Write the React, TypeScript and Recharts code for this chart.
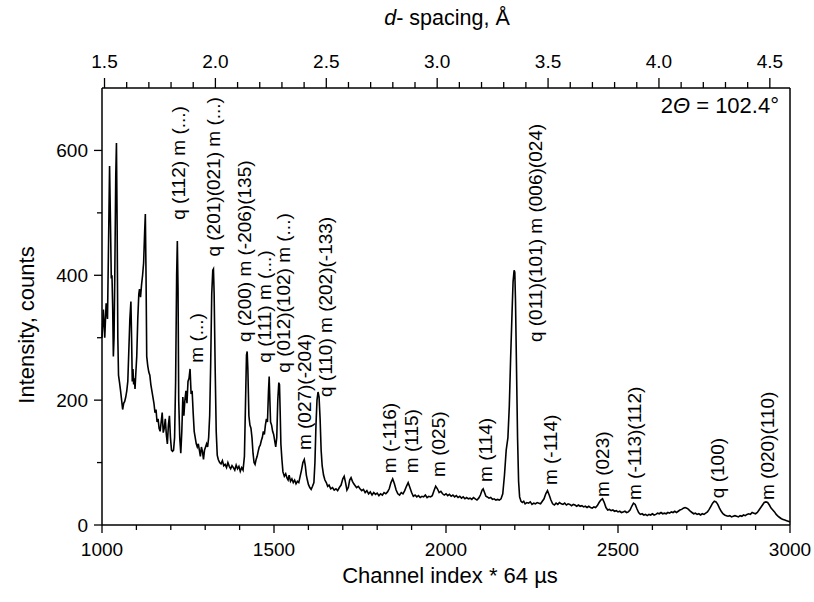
import { Line, LineChart, XAxis, YAxis, ReferenceLine, ReferenceDot } from "recharts";

// neutron diffraction spectrum, channel vs counts
const channel = [
  1000, 1004, 1008, 1012, 1016, 1019, 1022, 1025, 1027, 1029, 1031, 1033, 1035, 1037, 1040, 1042, 1044, 1046, 1048, 1051,
  1054, 1057, 1060, 1063, 1066, 1069, 1072, 1075, 1078, 1081, 1084, 1086, 1088, 1090, 1092, 1094, 1096, 1098, 1101, 1104,
  1107, 1109, 1112, 1115, 1118, 1121, 1124, 1126, 1128, 1130, 1133, 1136, 1139, 1142, 1145, 1148, 1151, 1154, 1157, 1160,
  1163, 1166, 1169, 1172, 1175, 1178, 1181, 1184, 1187, 1190, 1193, 1196, 1199, 1202, 1205, 1208, 1211, 1214, 1217, 1219,
  1221, 1223, 1226, 1229, 1232, 1235, 1238, 1241, 1244, 1247, 1250, 1253, 1256, 1259, 1262, 1265, 1268, 1271, 1274, 1277,
  1280, 1283, 1286, 1289, 1292, 1295, 1298, 1301, 1304, 1307, 1310, 1313, 1316, 1319, 1322, 1324, 1326, 1329, 1332, 1335,
  1338, 1342, 1346, 1350, 1354, 1358, 1362, 1366, 1370, 1374, 1378, 1382, 1386, 1390, 1394, 1398, 1402, 1406, 1410, 1414,
  1417, 1420, 1422, 1424, 1427, 1430, 1433, 1436, 1439, 1442, 1445, 1448, 1451, 1454, 1457, 1460, 1463, 1466, 1469, 1472,
  1475, 1478, 1481, 1484, 1486, 1488, 1490, 1493, 1496, 1499, 1502, 1505, 1508, 1511, 1514, 1516, 1518, 1520, 1523, 1526,
  1530, 1534, 1538, 1541, 1544, 1548, 1552, 1556, 1560, 1564, 1568, 1572, 1576, 1580, 1584, 1588, 1591, 1594, 1597, 1600,
  1604, 1608, 1612, 1616, 1619, 1622, 1625, 1628, 1631, 1634, 1637, 1640, 1644, 1648, 1652, 1656, 1660, 1665, 1670, 1675,
  1680, 1685, 1690, 1695, 1700, 1704, 1708, 1712, 1716, 1720, 1724, 1728, 1732, 1736, 1740, 1745, 1750, 1755, 1760, 1765,
  1770, 1775, 1780, 1785, 1790, 1795, 1800, 1805, 1810, 1815, 1820, 1825, 1830, 1835, 1840, 1845, 1850, 1855, 1860, 1865,
  1870, 1875, 1880, 1885, 1890, 1895, 1900, 1905, 1910, 1915, 1920, 1925, 1930, 1935, 1940, 1945, 1950, 1955, 1960, 1965,
  1970, 1975, 1980, 1985, 1990, 1995, 2000, 2005, 2010, 2015, 2020, 2025, 2030, 2035, 2040, 2045, 2050, 2055, 2060, 2065,
  2070, 2075, 2080, 2085, 2090, 2095, 2100, 2105, 2108, 2112, 2116, 2120, 2125, 2130, 2135, 2140, 2145, 2150, 2155, 2160,
  2165, 2170, 2175, 2180, 2184, 2188, 2192, 2195, 2198, 2200, 2202, 2205, 2208, 2211, 2214, 2218, 2222, 2226, 2230, 2235,
  2240, 2245, 2250, 2255, 2260, 2265, 2270, 2275, 2280, 2285, 2290, 2295, 2300, 2305, 2310, 2315, 2320, 2325, 2330, 2335,
  2340, 2345, 2350, 2355, 2360, 2365, 2370, 2375, 2380, 2385, 2390, 2395, 2400, 2405, 2410, 2415, 2420, 2425, 2430, 2435,
  2440, 2445, 2450, 2455, 2460, 2465, 2470, 2475, 2480, 2485, 2490, 2495, 2500, 2505, 2510, 2515, 2520, 2525, 2530, 2535,
  2540, 2545, 2550, 2555, 2560, 2565, 2570, 2575, 2580, 2585, 2590, 2595, 2600, 2605, 2610, 2615, 2620, 2625, 2630, 2635,
  2640, 2645, 2650, 2655, 2660, 2665, 2670, 2675, 2680, 2685, 2690, 2695, 2700, 2705, 2710, 2715, 2720, 2725, 2730, 2735,
  2740, 2745, 2750, 2755, 2760, 2765, 2770, 2775, 2780, 2785, 2790, 2795, 2800, 2805, 2810, 2815, 2820, 2825, 2830, 2835,
  2840, 2845, 2850, 2855, 2860, 2865, 2870, 2875, 2880, 2885, 2890, 2895, 2900, 2905, 2910, 2915, 2920, 2925, 2930, 2935,
  2940, 2945, 2950, 2955, 2960, 2965, 2970, 2975, 2980, 2985, 2990, 2995, 3000,
];

const counts = [
  300, 345, 300, 355, 330, 450, 575, 470, 395, 400, 350, 270, 300, 390, 560, 612, 480, 300, 240, 228,
  215, 200, 185, 195, 198, 205, 215, 230, 280, 330, 358, 300, 230, 250, 225, 235, 218, 240, 270, 330,
  370, 378, 365, 385, 400, 420, 470, 498, 400, 270, 255, 245, 240, 225, 215, 205, 195, 180, 185, 165,
  170, 155, 150, 165, 180, 148, 155, 170, 145, 130, 160, 175, 140, 120, 118, 120, 140, 230, 400, 455,
  380, 200, 140, 115, 150, 205, 175, 200, 215, 195, 230, 235, 250, 210, 215, 180, 150, 140, 130, 125,
  130, 120, 110, 125, 118, 105, 120, 125, 130, 125, 140, 175, 260, 370, 408, 410, 370, 250, 150, 112,
  105, 100, 98, 103, 95, 97, 92, 100, 94, 90, 95, 92, 88, 96, 90, 94, 86, 92, 88, 110,
  190, 272, 278, 250, 175, 160, 155, 140, 115, 100, 97, 105, 110, 118, 125, 128, 135, 140, 150, 145,
  160, 170, 165, 215, 238, 200, 165, 160, 150, 145, 135, 125, 140, 200, 228, 225, 180, 130, 105, 85,
  78, 82, 75, 72, 80, 70, 74, 68, 72, 66, 70, 68, 78, 88, 100, 105, 95, 80, 72, 65,
  60, 57, 62, 68, 100, 160, 200, 213, 205, 170, 120, 95, 80, 72, 68, 62, 64, 58, 60, 56,
  58, 55, 60, 64, 74, 78, 68, 56, 60, 72, 76, 70, 66, 63, 60, 62, 58, 55, 57, 52,
  55, 50, 53, 48, 52, 49, 51, 47, 50, 48, 52, 50, 53, 58, 68, 74, 66, 56, 50, 48,
  52, 50, 55, 62, 68, 60, 52, 46, 48, 45, 47, 44, 46, 45, 48, 44, 46, 45, 47, 55,
  62, 58, 52, 54, 50, 48, 50, 47, 49, 46, 48, 45, 47, 44, 46, 43, 45, 42, 44, 42,
  43, 41, 44, 42, 40, 43, 48, 56, 58, 52, 46, 45, 43, 44, 41, 42, 40, 41, 40, 42,
  50, 80, 120, 140, 190, 270, 340, 390, 408, 405, 360, 250, 140, 70, 45, 38, 36, 38, 34, 36,
  35, 37, 33, 35, 34, 36, 35, 34, 38, 42, 50, 55, 48, 40, 34, 32, 35, 33, 36, 34,
  33, 35, 32, 34, 33, 31, 33, 32, 30, 32, 30, 31, 29, 30, 28, 30, 28, 27, 29, 28,
  31, 36, 40, 42, 36, 28, 24, 25, 23, 24, 22, 23, 21, 22, 20, 21, 22, 20, 21, 24,
  30, 35, 33, 26, 20, 17, 18, 16, 17, 15, 17, 16, 18, 16, 17, 19, 18, 20, 18, 19,
  18, 20, 19, 21, 20, 22, 20, 22, 24, 25, 27, 28, 27, 25, 22, 20, 18, 19, 17, 18,
  16, 18, 17, 19, 21, 25, 30, 35, 38, 37, 33, 27, 22, 18, 16, 15, 14, 15, 13, 14,
  15, 14, 13, 15, 14, 16, 15, 17, 18, 17, 20, 19, 18, 20, 24, 28, 32, 36, 37, 36,
  32, 27, 24, 21, 17, 14, 12, 10, 9, 8, 7, 6, 5,
];

const chTicks = [1000, 1100, 1200, 1300, 1400, 1500, 1600, 1700, 1800, 1900, 2000, 2100, 2200, 2300, 2400, 2500, 2600, 2700, 2800, 2900, 3000];
const chLabels = [1000, 1500, 2000, 2500, 3000];
const countTicks = [0, 100, 200, 300, 400, 500, 600];
const countLabels = [0, 200, 400, 600];
const dTicks = [1.5, 1.6, 1.7, 1.8, 1.9, 2.0, 2.1, 2.2, 2.3, 2.4, 2.5, 2.6, 2.7, 2.8, 2.9, 3.0, 3.1, 3.2, 3.3, 3.4, 3.5, 3.6, 3.7, 3.8, 3.9, 4.0, 4.1, 4.2, 4.3, 4.4, 4.5];
const dLabels = ["1.5", "2.0", "2.5", "3.0", "3.5", "4.0", "4.5"];

// reflection labels and where they sit (channel, counts)
const peakText = [
  "q (112) m (...)", "q (201)(021) m (...)", "m (...)", "q (200) m (-206)(135)", "q (111) m (...)",
  "q (012)(102) m (...)", "m (027)(-204)", "q (110) m (202)(-133)", "m (-116)", "m (115)", "m (025)",
  "m (114)", "q (011)(101) m (006)(024)", "m (-114)", "m (023)", "m (-113)(112)", "q (100)", "m (020)(110)",
];
const peakCh = [1222, 1324, 1274, 1414, 1472, 1527, 1588, 1650, 1835, 1899, 1977, 2114, 2259, 2303, 2454, 2549, 2790, 2935];
const peakAt = [489, 430, 260, 293, 260, 244, 120, 205, 83, 83, 77, 69, 293, 64, 45, 40, 43, 40];

// d-spacing axis calibration: channel of d = 1.5 Å and channels per Å
const D0_CH = 1007.3;
const CH_PER_A = 644.7;
const dTickCh = dTicks.map(d => D0_CH + (d - 1.5) * CH_PER_A);

const data = channel.map((c, i) => ({ ch: c, counts: counts[i] }));

const FONT = "'Liberation Sans', Arial, Helvetica, sans-serif";

function ChTick({ x, y, payload }: any) {
  const major = chLabels.includes(payload.value);
  return (
    <g>
      <line x1={x} x2={x} y1={y} y2={y + (major ? 8 : 5)} stroke="#000" strokeWidth={1.3} />
      {major && <text x={x} y={y + 31} textAnchor="middle" fontSize={19} fontFamily={FONT} fill="#000">{payload.value}</text>}
    </g>
  );
}

function DTick({ x, y, payload, index }: any) {
  const i = index ?? dTickCh.findIndex(c => Math.abs(c - payload.value) < 1e-6);
  const d = dTicks[i];
  const label = dLabels.find(l => Math.abs(Number(l) - d) < 1e-6);
  return (
    <g>
      <line x1={x} x2={x} y1={y} y2={y - (label ? 10 : 6)} stroke="#000" strokeWidth={1.3} />
      {label && <text x={x} y={y - 20} textAnchor="middle" fontSize={19} fontFamily={FONT} fill="#000">{label}</text>}
    </g>
  );
}

function CountTick({ x, y, payload }: any) {
  const major = countLabels.includes(payload.value);
  return (
    <g>
      <line x1={x} x2={x - (major ? 8 : 5)} y1={y} y2={y} stroke="#000" strokeWidth={1.3} />
      {major && <text x={x - 14} y={y} textAnchor="end" dominantBaseline="central" fontSize={19} fontFamily={FONT} fill="#000">{payload.value}</text>}
    </g>
  );
}

function PeakLabel({ viewBox, value }: any) {
  const x = viewBox.cx ?? viewBox.x;
  const y = viewBox.cy ?? viewBox.y;
  return (
    <text x={x} y={y} transform={`rotate(-90 ${x} ${y})`} textAnchor="start" dominantBaseline="central"
      fontSize={19} fontFamily={FONT} fill="#000">{value}</text>
  );
}

export default function App() {
  return (
    <div style={{ position: "absolute", left: 0, top: 0, width: 814, height: 602, background: "#fff" }}>
      <LineChart width={814} height={602} data={data} margin={{ top: 58, right: 24, bottom: 47, left: 42 }}>
        <XAxis xAxisId="ch" dataKey="ch" type="number" domain={[1000, 3000]} ticks={chTicks} interval={0}
          height={30} tickSize={0} tickMargin={0} tick={<ChTick />} axisLine={{ stroke: "#000", strokeWidth: 1.5 }} />
        <XAxis xAxisId="top" dataKey="ch" orientation="top" type="number" domain={[1000, 3000]} ticks={dTickCh} interval={0}
          height={30} tickSize={0} tickMargin={0} tick={<DTick />} axisLine={{ stroke: "#000", strokeWidth: 1.5 }} />
        <YAxis type="number" domain={[0, 700]} ticks={countTicks} interval={0} width={60} tickSize={0} tickMargin={0}
          tick={<CountTick />} axisLine={{ stroke: "#000", strokeWidth: 1.5 }} />
        <ReferenceLine xAxisId="ch" x={3000} stroke="#000" strokeWidth={1.5} />
        <Line xAxisId="ch" type="linear" dataKey="counts" stroke="#000" strokeWidth={1.6} dot={false} isAnimationActive={false} />
        {peakText.map((t, i) => (
          <ReferenceDot key={t + i} xAxisId="ch" x={peakCh[i]} y={peakAt[i]} r={0} fill="none" stroke="none"
            label={<PeakLabel value={t} />} />
        ))}
        <text x={26} y={325} transform="rotate(-90 26 325)" textAnchor="middle" dominantBaseline="central"
          fontSize={22} fontFamily={FONT} fill="#000">Intensity, counts</text>
        <text x={450} y={583} textAnchor="middle" fontSize={22} fontFamily={FONT} fill="#000">Channel index * 64 µs</text>
        <text x={447} y={25} textAnchor="middle" fontSize={21.5} fontFamily={FONT} fill="#000">
          <tspan fontStyle="italic">d</tspan>- spacing, Å
        </text>
        <text x={779} y={113} textAnchor="end" fontSize={22} fontFamily={FONT} fill="#000">
          2<tspan fontStyle="italic">Θ</tspan> = 102.4°
        </text>
      </LineChart>
    </div>
  );
}
